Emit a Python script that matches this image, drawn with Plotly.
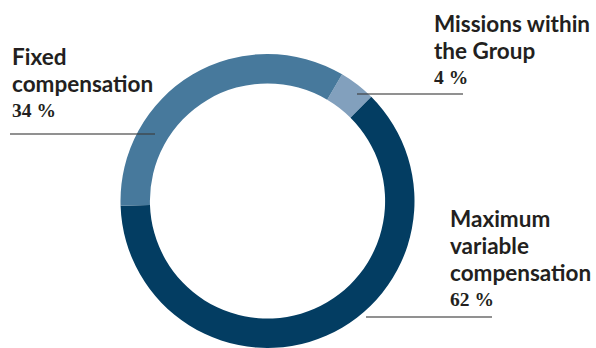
import plotly.graph_objects as go

# ---- data ----
labels = ["Missions within the Group", "Maximum variable compensation", "Fixed compensation"]
label_lines = [["Missions within", "the Group"], ["Maximum", "variable", "compensation"], ["Fixed", "compensation"]]
values = [4, 62, 34]
colors = ["#82a0bd", "#033d62", "#47799c"]

W, H = 596, 348

fig = go.Figure(go.Pie(
    labels=labels,
    values=values,
    marker=dict(colors=colors, line=dict(width=0)),
    hole=0.80,
    sort=False,
    direction="clockwise",
    rotation=30.5,
    textinfo="none",
    hoverinfo="label+percent",
    showlegend=False,
    domain=dict(x=[0, 2 * 267.5 / W], y=[0, 294 / H]),
))

def px(x):
    return x / W

def py(y):
    return 1 - y / H

NAME_SIZE = 22.5
PCT_SIZE = 19.5
# text left x, baselines of name lines, baseline of percentage line (pixels)
text_x = [432, 448, 10]
name_baselines = [[31.7, 58.3], [226, 253, 280], [64, 91]]
pct_baseline = [83.3, 305, 116.7]
lines = [((357, 94), (463, 94)), ((366, 317), (492, 317)), ((10, 134), (155, 134))]

annotations = []
shapes = []
for i in range(len(labels)):
    for line_text, base in zip(label_lines[i], name_baselines[i]):
        top = base - 1 - 0.987 * NAME_SIZE
        annotations.append(dict(
            x=px(text_x[i]), y=py(top), xref="paper", yref="paper",
            xanchor="left", yanchor="top", align="left", showarrow=False,
            text="<b>" + line_text + "</b>",
            font=dict(family="Lato", size=NAME_SIZE, color="#231f20"),
        ))
    top = pct_baseline[i] - 1 - 0.891 * PCT_SIZE
    annotations.append(dict(
        x=px(text_x[i]), y=py(top), xref="paper", yref="paper",
        xanchor="left", yanchor="top", align="left", showarrow=False,
        text=f"<b>{values[i]} %</b>",
        font=dict(family="Liberation Serif", size=PCT_SIZE, color="#231f20"),
    ))
    (x0, y0), (x1, y1) = lines[i]
    shapes.append(dict(
        type="line", xref="paper", yref="paper",
        x0=px(x0), y0=py(y0), x1=px(x1), y1=py(y1),
        line=dict(color="rgba(60,60,60,0.75)", width=1.5),
    ))

fig.update_layout(
    width=W, height=H,
    margin=dict(l=0, r=0, t=0, b=0),
    paper_bgcolor="white",
    plot_bgcolor="white",
    annotations=annotations,
    shapes=shapes,
)

fig.write_html("out.html", config={"displayModeBar": False},
               post_script="document.body.style.margin='0';")
